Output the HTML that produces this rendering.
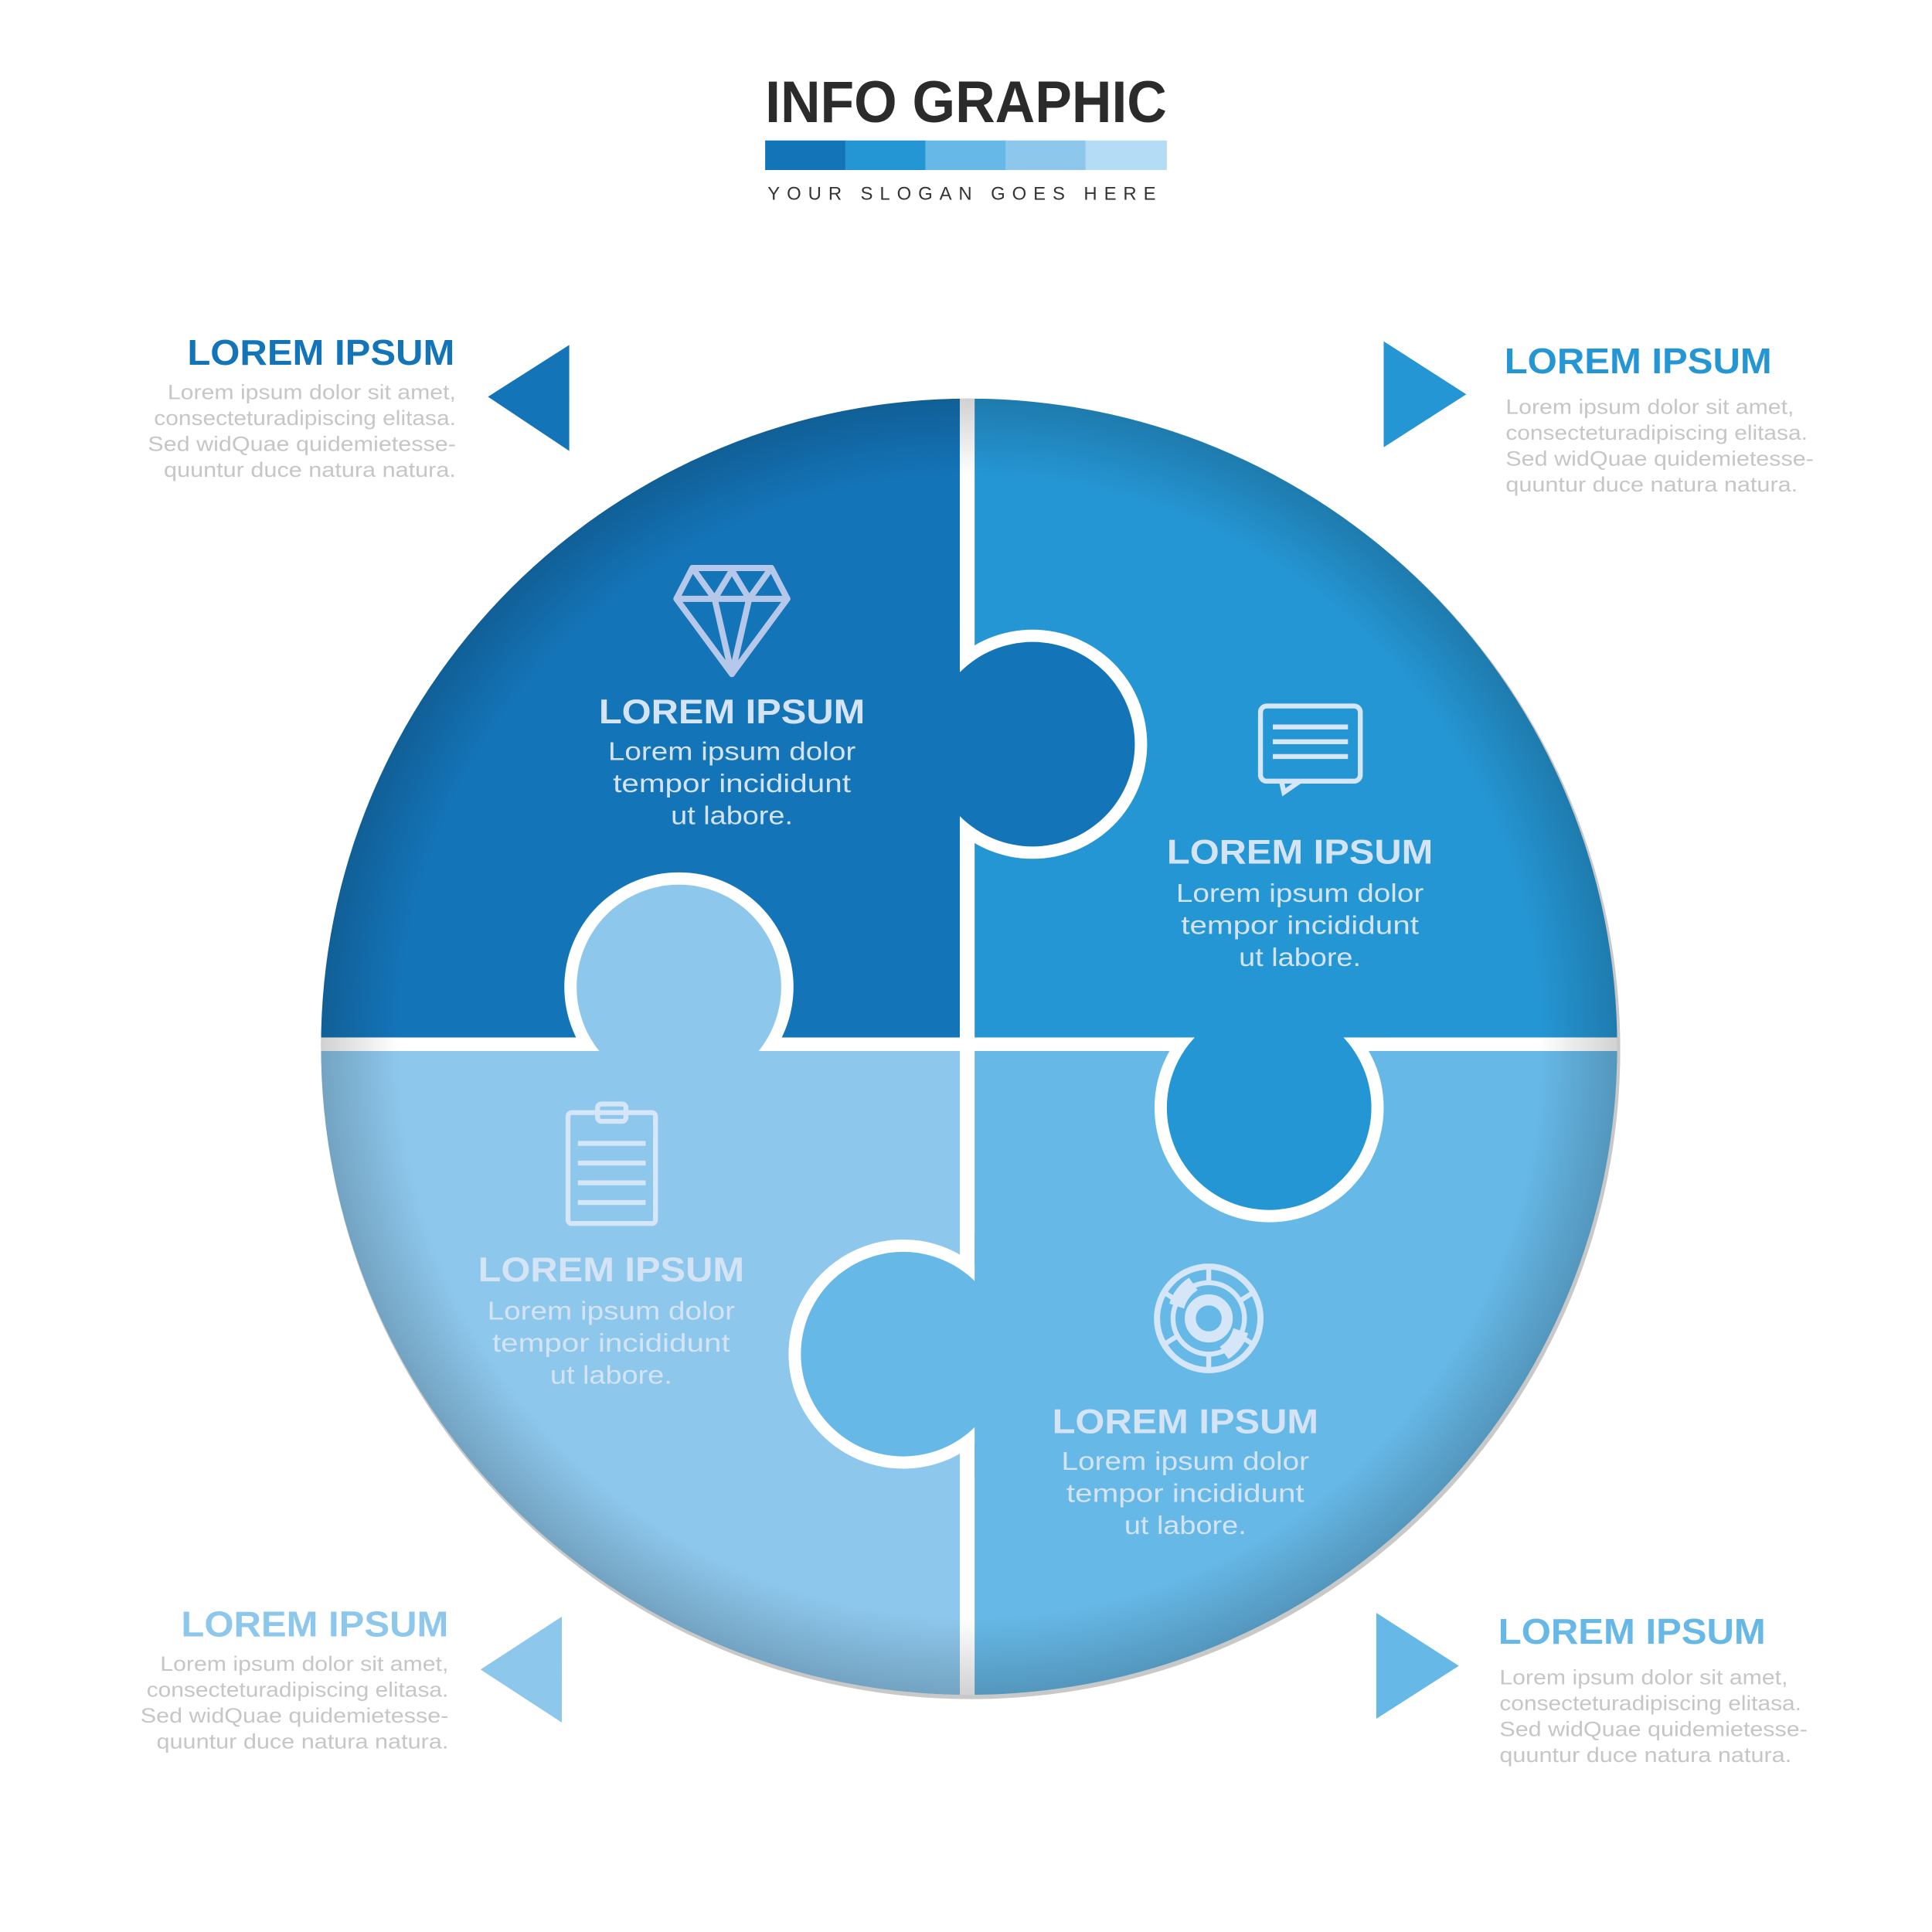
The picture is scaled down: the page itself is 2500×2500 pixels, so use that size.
<!DOCTYPE html>
<html><head><meta charset="utf-8"><style>
html,body{margin:0;padding:0;background:#fff;}
svg{display:block;}
text{font-family:"Liberation Sans",sans-serif;}
</style></head><body>
<svg width="2500" height="2500" viewBox="0 0 1568 1568" xmlns="http://www.w3.org/2000/svg">
<defs>
<clipPath id="cc"><circle cx="786.5" cy="849.5" r="526"/></clipPath>
<radialGradient id="sh" cx="786.5" cy="849.5" r="526" gradientUnits="userSpaceOnUse">
<stop offset="0.88" stop-color="#000" stop-opacity="0"/>
<stop offset="1" stop-color="#000" stop-opacity="0.18"/>
</radialGradient>
</defs>
<rect width="1568" height="1568" fill="#fff"/>
<text x="621" y="99" font-size="48" font-weight="bold" fill="#2b2b2b" textLength="326" lengthAdjust="spacingAndGlyphs">INFO GRAPHIC</text>
<rect x="621" y="114" width="66" height="24" fill="#1474b8"/>
<rect x="686" y="114" width="66" height="24" fill="#2596d4"/>
<rect x="751" y="114" width="66" height="24" fill="#66b8e7"/>
<rect x="816" y="114" width="66" height="24" fill="#8dc7ec"/>
<rect x="881" y="114" width="66" height="24" fill="#b5dcf5"/>
<text x="623" y="162" font-size="15" fill="#333" textLength="315" lengthAdjust="spacing">YOUR SLOGAN GOES HERE</text>

<circle cx="788" cy="852" r="527" fill="#c8c8c8"/>
<g clip-path="url(#cc)">
<rect x="250" y="310" width="536" height="540" fill="#1474b8"/>
<rect x="786" y="310" width="540" height="540" fill="#2596d4"/>
<rect x="250" y="849" width="536" height="540" fill="#8dc7ec"/>
<rect x="786" y="849" width="540" height="540" fill="#66b8e7"/>
<rect x="779" y="300" width="12" height="1100" fill="#fff"/>
<rect x="240" y="842" width="1100" height="11" fill="#fff"/>
<!-- TL tab into TR -->
<circle cx="838" cy="604" r="93" fill="#fff"/>
<rect x="730" y="505" width="49" height="198" fill="#1474b8"/>
<circle cx="838" cy="604" r="83" fill="#1474b8"/>
<!-- BL tab into TL -->
<circle cx="551" cy="801" r="93" fill="#fff"/>
<rect x="452" y="853" width="198" height="50" fill="#8dc7ec"/>
<circle cx="551" cy="801" r="83" fill="#8dc7ec"/>
<!-- TR tab into BR -->
<circle cx="1030" cy="899" r="93" fill="#fff"/>
<rect x="931" y="795" width="198" height="47" fill="#2596d4"/>
<circle cx="1030" cy="899" r="83" fill="#2596d4"/>
<!-- BR tab into BL -->
<circle cx="733" cy="1099" r="93" fill="#fff"/>
<rect x="791" y="1000" width="45" height="198" fill="#66b8e7"/>
<circle cx="733" cy="1099" r="83" fill="#66b8e7"/>
<circle cx="786.5" cy="849.5" r="526" fill="url(#sh)"/>
</g>

<g fill="none" stroke="#b6c8ea" stroke-width="5" stroke-linejoin="round">
<path d="M562 461 L626 461 L639 486 L594 547 L549 486 Z"/>
<path d="M549 486 L639 486 M562 461 L580 486 L594 547 L608 486 L626 461 M580 486 L594 463 L608 486"/>
</g>
<g fill="none" stroke="#d4e6f7" stroke-width="4">
<rect x="1023" y="573" width="81" height="61" rx="5"/>
<path d="M1040 634 L1042 643 L1055 634"/>
<path d="M1033 590 H1094 M1033 602 H1094 M1033 614 H1094"/>
<rect x="461" y="903" width="71" height="90" rx="3"/>
<rect x="485" y="896" width="23" height="14" rx="3"/>
<path d="M469 928 H524 M469 944 H524 M469 960 H524 M469 976 H524"/>
</g>
<g fill="none" stroke="#d4e6f7">
<circle cx="981" cy="1070" r="42" stroke-width="5"/>
<circle cx="981" cy="1070" r="29" stroke-width="4"/>
<circle cx="981" cy="1070" r="15" stroke-width="9"/>
<path d="M981 1028 L981 1041 M1017 1049 L1006 1056 M1017 1091 L1006 1084 M981 1112 L981 1099 M945 1091 L956 1084 M945 1049 L956 1056" stroke-width="4"/>
</g>
<path d="M949 1058 A38 38 0 0 1 965 1037 L972 1047 A26 26 0 0 0 961 1062 Z" fill="#d4e6f7"/>
<path d="M1013 1082 A38 38 0 0 1 997 1103 L990 1093 A26 26 0 0 0 1001 1078 Z" fill="#d4e6f7"/>

<g fill="#d5e4f5" text-anchor="middle">
<text x="594" y="587" font-size="28" font-weight="bold" textLength="216" lengthAdjust="spacingAndGlyphs">LOREM IPSUM</text>
<text x="594" y="617" font-size="21" textLength="201" lengthAdjust="spacingAndGlyphs">Lorem ipsum dolor</text>
<text x="594" y="643" font-size="21" textLength="193" lengthAdjust="spacingAndGlyphs">tempor incididunt</text>
<text x="594" y="669" font-size="21" textLength="99" lengthAdjust="spacingAndGlyphs">ut labore.</text>
<text x="1055" y="701" font-size="28" font-weight="bold" textLength="216" lengthAdjust="spacingAndGlyphs">LOREM IPSUM</text>
<text x="1055" y="732" font-size="21" textLength="201" lengthAdjust="spacingAndGlyphs">Lorem ipsum dolor</text>
<text x="1055" y="758" font-size="21" textLength="193" lengthAdjust="spacingAndGlyphs">tempor incididunt</text>
<text x="1055" y="784" font-size="21" textLength="99" lengthAdjust="spacingAndGlyphs">ut labore.</text>
<text x="496" y="1040" font-size="28" font-weight="bold" textLength="216" lengthAdjust="spacingAndGlyphs">LOREM IPSUM</text>
<text x="496" y="1071" font-size="21" textLength="201" lengthAdjust="spacingAndGlyphs">Lorem ipsum dolor</text>
<text x="496" y="1097" font-size="21" textLength="193" lengthAdjust="spacingAndGlyphs">tempor incididunt</text>
<text x="496" y="1123" font-size="21" textLength="99" lengthAdjust="spacingAndGlyphs">ut labore.</text>
<text x="962" y="1163" font-size="28" font-weight="bold" textLength="216" lengthAdjust="spacingAndGlyphs">LOREM IPSUM</text>
<text x="962" y="1193" font-size="21" textLength="201" lengthAdjust="spacingAndGlyphs">Lorem ipsum dolor</text>
<text x="962" y="1219" font-size="21" textLength="193" lengthAdjust="spacingAndGlyphs">tempor incididunt</text>
<text x="962" y="1245" font-size="21" textLength="99" lengthAdjust="spacingAndGlyphs">ut labore.</text>
</g>

<polygon points="396,322 462,280 462,366" fill="#1474b8"/>
<polygon points="1123,277 1190,320 1123,363" fill="#2596d4"/>
<polygon points="390,1355 456,1312 456,1398" fill="#8dc7ec"/>
<polygon points="1117,1309 1184,1352 1117,1395" fill="#66b8e7"/>

<g font-size="17" fill="#c6c6c6">
<text x="152" y="296" font-size="29" font-weight="bold" fill="#1474b8" textLength="217" lengthAdjust="spacingAndGlyphs">LOREM IPSUM</text>
<text x="136" y="324" textLength="234" lengthAdjust="spacingAndGlyphs">Lorem ipsum dolor sit amet,</text>
<text x="125" y="345" textLength="245" lengthAdjust="spacingAndGlyphs">consecteturadipiscing elitasa.</text>
<text x="120" y="366" textLength="250" lengthAdjust="spacingAndGlyphs">Sed widQuae quidemietesse-</text>
<text x="133" y="387" textLength="237" lengthAdjust="spacingAndGlyphs">quuntur duce natura natura.</text>

<text x="1221" y="303" font-size="29" font-weight="bold" fill="#2596d4" textLength="217" lengthAdjust="spacingAndGlyphs">LOREM IPSUM</text>
<text x="1222" y="336" textLength="234" lengthAdjust="spacingAndGlyphs">Lorem ipsum dolor sit amet,</text>
<text x="1222" y="357" textLength="245" lengthAdjust="spacingAndGlyphs">consecteturadipiscing elitasa.</text>
<text x="1222" y="378" textLength="250" lengthAdjust="spacingAndGlyphs">Sed widQuae quidemietesse-</text>
<text x="1222" y="399" textLength="237" lengthAdjust="spacingAndGlyphs">quuntur duce natura natura.</text>

<text x="147" y="1328" font-size="29" font-weight="bold" fill="#8dc7ec" textLength="217" lengthAdjust="spacingAndGlyphs">LOREM IPSUM</text>
<text x="130" y="1356" textLength="234" lengthAdjust="spacingAndGlyphs">Lorem ipsum dolor sit amet,</text>
<text x="119" y="1377" textLength="245" lengthAdjust="spacingAndGlyphs">consecteturadipiscing elitasa.</text>
<text x="114" y="1398" textLength="250" lengthAdjust="spacingAndGlyphs">Sed widQuae quidemietesse-</text>
<text x="127" y="1419" textLength="237" lengthAdjust="spacingAndGlyphs">quuntur duce natura natura.</text>

<text x="1216" y="1334" font-size="29" font-weight="bold" fill="#66b8e7" textLength="217" lengthAdjust="spacingAndGlyphs">LOREM IPSUM</text>
<text x="1217" y="1367" textLength="234" lengthAdjust="spacingAndGlyphs">Lorem ipsum dolor sit amet,</text>
<text x="1217" y="1388" textLength="245" lengthAdjust="spacingAndGlyphs">consecteturadipiscing elitasa.</text>
<text x="1217" y="1409" textLength="250" lengthAdjust="spacingAndGlyphs">Sed widQuae quidemietesse-</text>
<text x="1217" y="1430" textLength="237" lengthAdjust="spacingAndGlyphs">quuntur duce natura natura.</text>
</g>
</svg>
</body></html>
